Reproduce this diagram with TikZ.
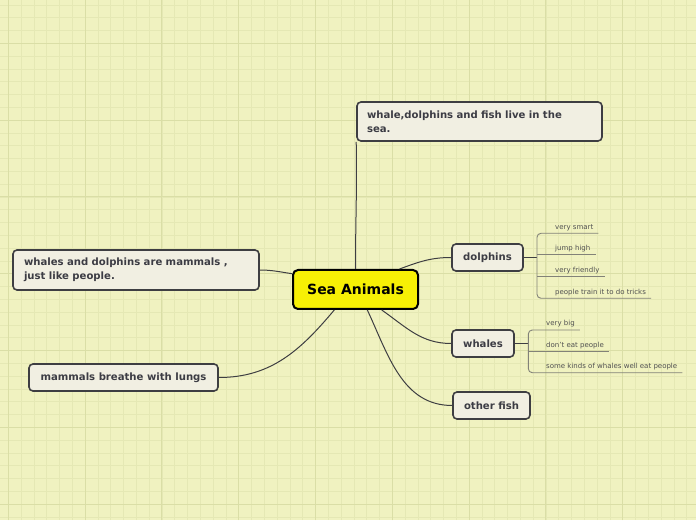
\documentclass[tikz,border=0pt]{standalone}
\usepackage{fontspec}
\setmainfont{DejaVu Sans}
\definecolor{bg}{RGB}{240,242,192}
\definecolor{gridminor}{RGB}{229,232,180}
\definecolor{gridmajor}{RGB}{218,222,166}
\definecolor{boxfill}{RGB}{241,239,226}
\definecolor{boxborder}{RGB}{62,62,66}
\definecolor{txt}{RGB}{60,60,68}
\definecolor{mainfill}{RGB}{247,240,5}
\definecolor{subline}{RGB}{130,130,120}
\definecolor{subtxt}{RGB}{80,80,80}
\tikzset{
  minorgrid/.style={draw=gridminor, line width=0.7pt},
  majorgrid/.style={draw=gridmajor, line width=1.1pt},
  topic/.style={draw=boxborder, line width=1.6pt, fill=boxfill, rounded corners=4pt,
    inner sep=0pt, text=txt, font=\bfseries\fontsize{10.1}{13.5}\selectfont},
  central/.style={draw=black, line width=2pt, fill=mainfill, rounded corners=5pt,
    inner sep=0pt, text=black, font=\bfseries\fontsize{14}{16}\selectfont,
    minimum width=125pt, minimum height=39pt},
  link/.style={draw=boxborder, line width=1pt},
  subtopic/.style={anchor=south west, inner xsep=5pt, inner ysep=4pt, text=subtxt,
    font=\fontsize{7}{8}\selectfont, text depth=0pt},
  bracket/.style={draw=subline, line width=0.9pt, rounded corners=4pt},
  underl/.style={draw=subline, line width=0.9pt}
}
\begin{document}
\begin{tikzpicture}[x=1pt,y=1pt]
\useasboundingbox (0,0) rectangle (696,520);
\fill[bg] (0,0) rectangle (696,520);
% grid
\foreach \i in {0,...,53} \draw[minorgrid] ({8.3+12.8*\i},0) -- ++(0,520);
\foreach \j in {0,...,40} \draw[minorgrid] (0,{515.1-12.8*\j}) -- ++(696,0);
\foreach \k in {0,...,8} \draw[majorgrid] ({8.3+76.8*\k},0) -- ++(0,520);
\foreach \k in {0,...,6} \draw[majorgrid] (0,{476.7-76.8*\k}) -- ++(696,0);

% nodes
\node[central] (main) at (355.5,230.5) {Sea Animals};
\node[topic, align=left, text width=225pt, inner xsep=10pt, minimum height=39pt]
  (top) at (479.5,398.5) {whale,dolphins and fish live in the\\sea.};
\node[topic, align=left, text width=224pt, inner xsep=11pt, minimum height=40pt]
  (mam) at (136,250) {whales and dolphins are mammals ,\\just like people.};
\node[topic, minimum width=189pt, minimum height=27pt] (breathe) at (123.5,142.5) {mammals breathe with lungs};
\node[topic, minimum width=71pt, minimum height=27pt] (dolphins) at (487.5,262.5) {dolphins};
\node[topic, minimum width=62pt, minimum height=27pt] (whales) at (483,176.5) {whales};
\node[topic, minimum width=77pt, minimum height=27pt] (fish) at (491.5,114.5) {other fish};

% main connectors
\draw[link] (main.north) to[out=90,in=-89] (top.south west);
\draw[link] (main.166) to[out=172,in=0] (mam.east);
\draw[link] (main.224) to[out=-130,in=0] (breathe.east);
\draw[link] (main.25) to[out=20,in=180] (dolphins.west);
\draw[link] (main.-38) to[out=-35,in=180] (whales.west);
\draw[link] (main.-60) to[out=-65,in=180] (fish.west);

% dolphins subtopics
\coordinate (db) at (537,262.5);
\node[subtopic] (d1) at (550,286.7) {very smart};
\node[subtopic] (d2) at (550,265.7) {jump high};
\node[subtopic] (d3) at (550,243.3) {very friendly};
\node[subtopic] (d4) at (550,221.7) {people train it to do tricks};
\draw[link] (dolphins.east) -- (db);
\draw[bracket] (d1.south east) -- (db |- d1.south) -- (db |- d4.south) -- (d4.south east);
\draw[underl] (db |- d2.south) -- (d2.south east);
\draw[underl] (db |- d3.south) -- (d3.south east);

% whales subtopics
\coordinate (wb) at (528.3,176.5);
\node[subtopic] (w1) at (541,190) {very big};
\node[subtopic] (w2) at (541,168.3) {don't eat people};
\node[subtopic] (w3) at (541,147.3) {some kinds of whales well eat people};
\draw[link] (whales.east) -- (wb);
\draw[bracket] (w1.south east) -- (wb |- w1.south) -- (wb |- w3.south) -- (w3.south east);
\draw[underl] (wb |- w2.south) -- (w2.south east);
\end{tikzpicture}
\end{document}
